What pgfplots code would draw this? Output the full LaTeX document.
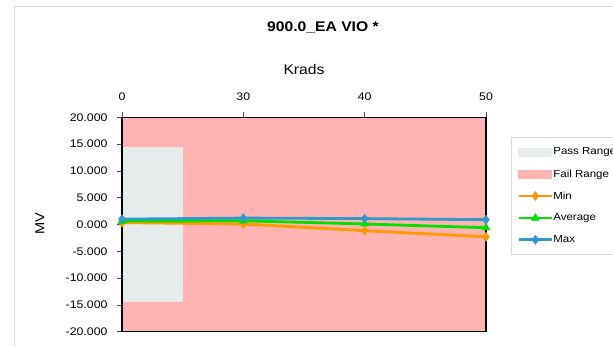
\documentclass[border=0pt]{standalone}
\usepackage{fontspec}
\setmainfont{Liberation Sans}[FakeStretch=1.12]
\usepackage{pgfplots}
\pgfplotsset{compat=1.18}
\definecolor{failpink}{RGB}{255,179,179}
\definecolor{passgray}{RGB}{230,235,235}
\definecolor{minorange}{RGB}{255,153,0}
\definecolor{avggreen}{RGB}{0,225,0}
\definecolor{maxblue}{RGB}{51,153,204}
\definecolor{frame}{RGB}{217,217,217}
\begin{document}
\begin{tikzpicture}[x=1pt,y=1pt]
\begin{axis}[
  width=364pt, height=214.4pt, scale only axis,
  xmin=0, xmax=3, ymin=-20, ymax=20,
  xtick={0,1,2,3}, xticklabels={0,30,40,50},
  ytick={-20,-15,-10,-5,0,5,10,15,20},
  yticklabels={-20.000,-15.000,-10.000,-5.000,0.000,5.000,10.000,15.000,20.000},
  xtick pos=upper, xticklabel pos=upper, ytick pos=left,
  tick align=outside, major tick length=5pt,
  tick style={black!70, line width=0.6pt},
  ticklabel style={font=\fontsize{11}{13}\selectfont},
  xticklabel style={yshift=8pt},
  yticklabel style={xshift=-6pt},
  axis line style={black, line width=1.2pt},
  axis on top,
  clip=false,
  legend style={at={(1.0687,0.908)}, anchor=north west,
    draw=frame, line width=1pt, fill=white,
    font=\fontsize{10.3}{12}\selectfont,
    row sep=13pt, inner xsep=6pt, inner ysep=10pt,
    nodes={inner sep=0pt, anchor=west}},
  legend cell align=left,
  /tikz/every even column/.append style={column sep=3pt},
]
\addlegendimage{legend image code/.code={\fill[passgray] (0pt,-4pt) rectangle (33pt,4pt);}}
\addlegendentry{Pass Range}
\addlegendimage{legend image code/.code={\fill[failpink] (0pt,-4pt) rectangle (33pt,4pt);}}
\addlegendentry{Fail Range}
\addplot[fill=failpink, draw=none, forget plot] coordinates {(0,-20) (3,-20) (3,20) (0,20)} -- cycle;
\addplot[fill=passgray, draw=none, forget plot] coordinates {(0,-14.5) (0.505,-14.5) (0.505,14.5) (0,14.5)} -- cycle;
\pgfplotsset{legend image code/.code={\draw[mark repeat=2,mark phase=2,#1] plot coordinates {(0pt,0pt) (16.5pt,0pt) (33pt,0pt)};}}
\addplot[minorange, line width=2.8pt, mark=diamond*, mark size=4.5pt, mark options={solid, line width=0.5pt}] coordinates {(0,0.35) (1,0.1) (2,-1.15) (3,-2.3)};
\addlegendentry{Min}
\addplot[avggreen, line width=2.8pt, mark=triangle*, mark size=4.5pt, mark options={solid, line width=0.5pt}] coordinates {(0,0.65) (1,0.7) (2,0.1) (3,-0.6)};
\addlegendentry{Average}
\addplot[maxblue, line width=2.8pt, mark=diamond*, mark size=4.5pt, mark options={solid, line width=0.5pt}] coordinates {(0,1.0) (1,1.2) (2,1.1) (3,0.9)};
\addlegendentry{Max}
\coordinate (O) at (axis cs:0,-20);
\end{axis}
\begin{scope}[shift={(O)}, xshift=-122pt, yshift=-14.3pt]
\draw[frame, line width=1.5pt] (14.5,-10) rectangle (700,339.5);
\node[font=\fontsize{14}{16}\selectfont\bfseries] at (323,319) {900.0\_EA VIO *};
\node[font=\fontsize{14}{16}\selectfont] at (304,276.7) {Krads};
\node[font=\fontsize{13}{15}\selectfont, rotate=90] at (40,122) {MV};
\pgfresetboundingbox
\useasboundingbox (0,0) rectangle (613,346);
\end{scope}
\end{tikzpicture}
\end{document}
